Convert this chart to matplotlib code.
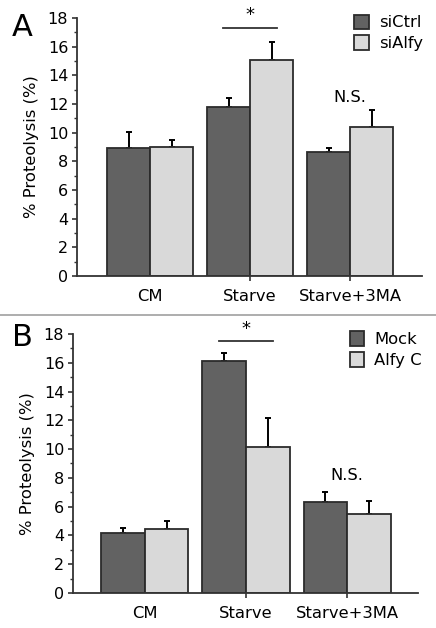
import matplotlib
matplotlib.use("Agg")
import matplotlib.pyplot as plt
import numpy as np

plt.rcParams['font.family'] = ['DejaVu Sans']

categories = ["CM", "Starve", "Starve+3MA"]

# Panel A
a_labels = ["siCtrl", "siAlfy"]
a_ctrl = [8.93, 11.8, 8.65]
a_ctrl_err = [1.12, 0.6, 0.25]
a_alfy = [9.0, 15.07, 10.4]
a_alfy_err = [0.5, 1.25, 1.2]

# Panel B
b_labels = ["Mock", "Alfy C"]
b_mock = [4.17, 16.12, 6.32]
b_mock_err = [0.35, 0.58, 0.7]
b_alfyc = [4.45, 10.15, 5.5]
b_alfyc_err = [0.55, 2.0, 0.9]

yticks = [0, 2, 4, 6, 8, 10, 12, 14, 16, 18]

DARK = "#626262"
LIGHT = "#d9d9d9"
EDGE = "#2b2b2b"
AX = "#333333"

fig = plt.figure(figsize=(4.36, 6.28), dpi=100)


def panel(rect, s1, e1, s2, e2, labels, sig_y, ns_y, xlim, leg_anchor):
    ax = fig.add_axes(rect)
    x = np.arange(len(categories))
    w = 0.43
    ax.bar(x - w / 2, s1, w, color=DARK, edgecolor=EDGE, linewidth=1.3, label=labels[0], zorder=2)
    ax.bar(x + w / 2, s2, w, color=LIGHT, edgecolor=EDGE, linewidth=1.3, label=labels[1], zorder=2)
    ax.errorbar(x - w / 2, s1, yerr=[np.zeros(3), e1], fmt='none', ecolor='black',
                elinewidth=1.4, capsize=2.3, capthick=1.4, zorder=1)
    ax.errorbar(x + w / 2, s2, yerr=[np.zeros(3), e2], fmt='none', ecolor='black',
                elinewidth=1.4, capsize=2.3, capthick=1.4, zorder=1)
    ax.set_xlim(*xlim)
    ax.set_ylim(0, 18)
    ax.set_yticks(yticks)
    ax.set_yticklabels([str(t) for t in yticks], fontsize=11.5)
    ax.set_yticks(np.arange(1, 18, 2), minor=True)
    ax.set_xticks(x)
    ax.set_xticklabels(categories, fontsize=11.8)
    ax.tick_params(axis='y', which='major', length=3.8, width=1.2, color=AX, pad=2.5)
    ax.tick_params(axis='y', which='minor', length=2.3, width=1.0, color=AX)
    ax.tick_params(axis='x', which='major', length=3.5, width=1.2, color=AX, pad=6)
    ax.xaxis.get_major_ticks()[0].tick1line.set_visible(False)
    for s in ['top', 'right']:
        ax.spines[s].set_visible(False)
    for s in ['left', 'bottom']:
        ax.spines[s].set_color(AX)
        ax.spines[s].set_linewidth(1.3)
    ax.set_ylabel("% Proteolysis (%)", fontsize=11.8, labelpad=6)
    # significance
    ax.plot([1 - 0.27, 1 + 0.27], [sig_y, sig_y], color='#333333', lw=1.3, clip_on=False)
    ax.text(1.0, sig_y + 0.25, "*", ha='center', va='bottom', fontsize=13)
    ax.text(2.0, ns_y, "N.S.", ha='center', va='center', fontsize=11.8)
    leg = ax.legend(loc='upper left', bbox_to_anchor=leg_anchor, frameon=False,
                    fontsize=11.8, handlelength=0.9, handleheight=1.0,
                    handletextpad=0.6, labelspacing=0.3, borderaxespad=0)
    for h in leg.legend_handles:
        h.set_linewidth(1.3)
    return ax


axA = panel([0.1766, 0.5605, 0.7914, 0.4108], a_ctrl, a_ctrl_err, a_alfy, a_alfy_err,
            a_labels, 17.3, 12.45, (-0.73, 2.72), (0.785, 1.039))
axB = panel([0.1674, 0.0557, 0.7913, 0.4125], b_mock, b_mock_err, b_alfyc, b_alfyc_err,
            b_labels, 17.5, 8.2, (-0.71, 2.70), (0.783, 1.036))

fig.text(0.027, 0.957, "A", fontsize=22, ha='left', va='center')
fig.text(0.027, 0.462, "B", fontsize=22, ha='left', va='center')

fig.add_artist(plt.Line2D([0.0, 1.0], [1 - 315 / 628, 1 - 315 / 628], color='#a0a0a0', lw=1.2,
                          transform=fig.transFigure))

fig.savefig("out.png", dpi=100)
